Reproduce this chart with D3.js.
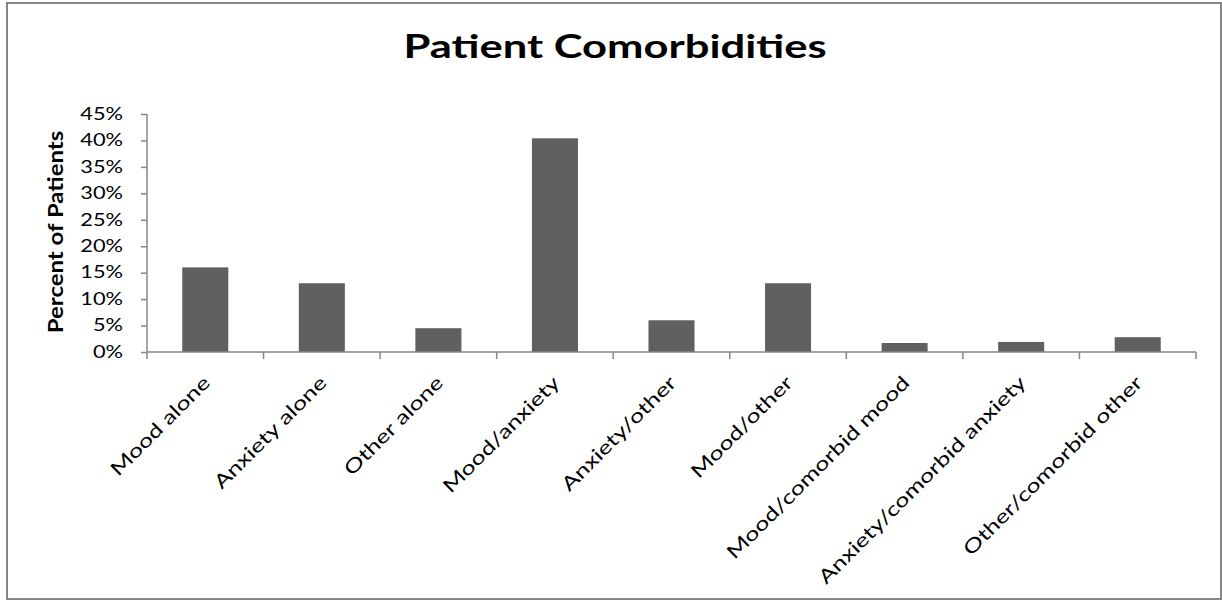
<!DOCTYPE html>
<html>
<head>
<meta charset="utf-8">
<script src="https://cdn.jsdelivr.net/npm/d3@7"></script>
<style>
  body { margin: 0; background: #fff; }
  text { font-family: Lato, "Open Sans", sans-serif; }
</style>
</head>
<body>
<div id="chart"></div>
<script>
// data
const categories = ['Mood alone', 'Anxiety alone', 'Other alone', 'Mood/anxiety', 'Anxiety/other',
                    'Mood/other', 'Mood/comorbid mood', 'Anxiety/comorbid anxiety', 'Other/comorbid other'];
const percents = [16, 13, 4.5, 40.4, 6, 13, 1.7, 1.9, 2.8];
const yTicks = [0, 5, 10, 15, 20, 25, 30, 35, 40, 45];

const w = 1222;
const h = 601;
const plot_left = 147, plot_right = 1196, plot_top = 114, plot_bottom = 352;
// the source picture is a bit wider than tall, so text gets stretched along its baseline
const stretch = 1.32;

const svg = d3.select('#chart').append('svg')
              .attr('width', w)
              .attr('height', h)

// outer frame
svg.append('rect')
   .attr('x', 7).attr('y', 3)
   .attr('width', 1214).attr('height', 596)
   .attr('fill', 'none')
   .attr('stroke', '#868686')
   .attr('stroke-width', 2)

svg.append('text')
   .attr('transform', 'translate(615,58) scale(1.36,1)')
   .attr('text-anchor', 'middle')
   .style('font-size', '32px')
   .style('font-weight', 'bold')
   .text('Patient Comorbidities')

const xScale = d3.scaleBand()
                 .domain(categories)
                 .range([plot_left, plot_right])
                 .paddingInner(0.605)
                 .paddingOuter(0.3025)

const bandX = d3.scaleBand().domain(categories).range([plot_left, plot_right])

const yScale = d3.scaleLinear()
                 .domain([0, 45])
                 .range([plot_bottom, plot_top])

// y axis
const yAxis = svg.append('g')
   .attr('transform', 'translate(' + plot_left + ',0)')
   .call(d3.axisLeft(yScale).tickValues(yTicks).tickSize(6).tickPadding(0).tickFormat(d => d + '%'))
yAxis.selectAll('line, path').attr('stroke', '#868686').attr('stroke-width', 1.5)
yAxis.select('path').attr('d', 'M0,' + plot_top + 'V' + plot_bottom)
yAxis.selectAll('text')
     .attr('x', 0)
     .attr('transform', 'translate(-24,0) scale(' + stretch + ',1)')
     .style('font-size', '16.5px')
     .style('font-family', 'Lato, sans-serif')
     .attr('fill', '#000')

// bars
svg.append('g').selectAll('rect')
   .data(percents)
   .enter()
   .append('rect')
   .attr('x', (d, i) => xScale(categories[i]))
   .attr('width', xScale.bandwidth())
   .attr('y', d => yScale(d))
   .attr('height', d => yScale(0) - yScale(d))
   .attr('fill', '#606060')

// x axis line + ticks at band edges
const xg = svg.append('g')
xg.append('line')
  .attr('x1', plot_left).attr('x2', plot_right)
  .attr('y1', plot_bottom).attr('y2', plot_bottom)
  .attr('stroke', '#868686').attr('stroke-width', 1.5)
xg.selectAll('line.tick')
  .data(categories.concat(['end']))
  .enter()
  .append('line')
  .attr('class', 'tick')
  .attr('x1', (d, i) => i < categories.length ? bandX(d) : plot_right)
  .attr('x2', (d, i) => i < categories.length ? bandX(d) : plot_right)
  .attr('y1', plot_bottom).attr('y2', plot_bottom + 7)
  .attr('stroke', '#868686').attr('stroke-width', 1.5)

xg.selectAll('text')
  .data(categories)
  .enter()
  .append('text')
  .attr('transform', d => 'translate(' + (bandX(d) + bandX.bandwidth() / 2 + 6) + ',' + (plot_bottom + 32) + ') rotate(-45) scale(' + stretch + ',1)')
  .attr('text-anchor', 'end')
  .style('font-size', '19px')
  .text(d => d)

// y axis title
svg.append('text')
   .attr('transform', 'translate(63,232) rotate(-90) scale(1.14,1)')
   .attr('text-anchor', 'middle')
   .style('font-size', '21px')
   .style('font-weight', 'bold')
   .text('Percent of Patients')
</script>
</body>
</html>
